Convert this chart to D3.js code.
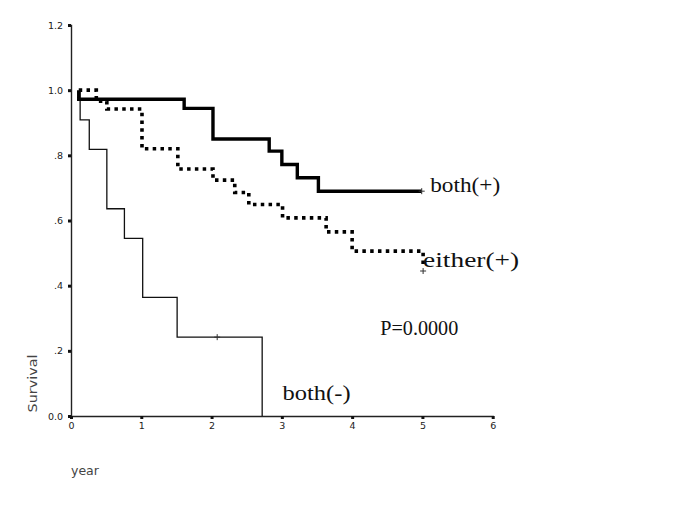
<!DOCTYPE html>
<html>
<head>
<meta charset="utf-8">
<script src="https://cdn.jsdelivr.net/npm/d3@7"></script>
<style>
  body { margin: 0; background: #fff; }
  .tick text { font-family: "DejaVu Sans", sans-serif; font-size: 9.5px; fill: #222; }
  .lbl { font-family: "Liberation Serif", serif; font-size: 20px; fill: #111; }
</style>
</head>
<body>
<svg width="685" height="513"></svg>
<script>
const svg = d3.select('svg');

// survival steps (value holds from that time on)
const bothPosTime = [0.11, 0.11, 1.61, 2.02, 2.82, 3.00, 3.22, 3.52, 4.99];
const bothPosSurv = [1.00, 0.972, 0.944, 0.850, 0.813, 0.772, 0.731, 0.690, 0.690];

const eitherTime = [0.11, 0.36, 0.51, 1.01, 1.52, 2.02, 2.33, 2.53, 3.01, 3.63, 4.00, 5.01, 5.01];
const eitherSurv = [1.00, 0.966, 0.942, 0.820, 0.758, 0.724, 0.686, 0.649, 0.608, 0.565, 0.506, 0.455, 0.455];

const bothNegTime = [0.12, 0.13, 0.26, 0.51, 0.76, 1.02, 1.51, 2.72, 2.72];
const bothNegSurv = [1.00, 0.909, 0.818, 0.636, 0.545, 0.364, 0.242, 0.0, 0.0];

// censored marks
const censorTime = [2.08, 4.99, 5.01];
const censorSurv = [0.242, 0.690, 0.445];

const xTicks = [0, 1, 2, 3, 4, 5, 6];
const yTicks = [0, 0.2, 0.4, 0.6, 0.8, 1.0, 1.2];

const x = d3.scaleLinear().domain([0, 6]).range([71, 492.7]);
const y = d3.scaleLinear().domain([0, 1.2]).range([416, 25]);

const fmtY = d => {
  const s = d3.format('.1f')(d);
  return (d > 0 && d < 1) ? s.slice(1) : s;
};

const yAxis = svg.append('g')
  .attr('transform', `translate(${x(0)},0)`)
  .call(d3.axisLeft(y).tickValues(yTicks).tickFormat(fmtY).tickSize(3).tickPadding(5));
const xAxis = svg.append('g')
  .attr('transform', `translate(0,${y(0)})`)
  .call(d3.axisBottom(x).tickValues(xTicks).tickFormat(d3.format('d')).tickSize(3).tickPadding(3));

[yAxis, xAxis].forEach(a => {
  a.select('.domain').attr('stroke', '#222').attr('stroke-width', 1.4);
  a.selectAll('.tick line').attr('stroke', '#111').attr('stroke-width', 3);
});

const line = d3.line()
  .x(d => x(d[0]))
  .y(d => y(d[1]))
  .curve(d3.curveStepAfter);

const zip = (a, b) => a.map((t, i) => [t, b[i]]);

svg.append('path')
  .datum(zip(bothNegTime, bothNegSurv))
  .attr('d', line)
  .attr('fill', 'none').attr('stroke', '#111').attr('stroke-width', 1.3);

svg.append('path')
  .datum(zip(eitherTime, eitherSurv))
  .attr('d', line)
  .attr('fill', 'none').attr('stroke', '#000').attr('stroke-width', 3.6)
  .attr('stroke-dasharray', '3.5,4.3');

svg.append('path')
  .datum(zip(bothPosTime, bothPosSurv))
  .attr('d', line)
  .attr('fill', 'none').attr('stroke', '#000').attr('stroke-width', 3.4);

// censor crosses
const cg = svg.append('g').attr('stroke', '#333').attr('stroke-width', 1);
censorTime.forEach((t, i) => {
  cg.append('line').attr('x1', x(t) - 3).attr('x2', x(t) + 3).attr('y1', y(censorSurv[i])).attr('y2', y(censorSurv[i]));
  cg.append('line').attr('x1', x(t)).attr('x2', x(t)).attr('y1', y(censorSurv[i]) - 3).attr('y2', y(censorSurv[i]) + 3);
});

// group labels
const labels = [
  { text: 'both(+)', t: 5.11, s: 0.687, w: 70 },
  { text: 'either(+)', t: 5.01, s: 0.457, w: 96 },
  { text: 'P=0.0000', t: 4.40, s: 0.248, w: 78 },
  { text: 'both(-)', t: 3.01, s: 0.049, w: 68 }
];
svg.selectAll('text.lbl')
  .data(labels)
  .enter().append('text')
  .attr('class', 'lbl')
  .attr('x', d => x(d.t))
  .attr('y', d => y(d.s))
  .attr('textLength', d => d.w)
  .attr('lengthAdjust', 'spacingAndGlyphs')
  .text(d => d.text);

svg.append('text')
  .attr('transform', `translate(37,${y(0.1)}) rotate(-90)`)
  .attr('text-anchor', 'middle')
  .attr('font-family', 'DejaVu Sans, sans-serif')
  .attr('font-size', 13)
  .attr('fill', '#444')
  .attr('textLength', 58)
  .attr('lengthAdjust', 'spacingAndGlyphs')
  .text('Survival');

svg.append('text')
  .attr('x', x(0))
  .attr('y', 475)
  .attr('font-family', 'DejaVu Sans, sans-serif')
  .attr('font-size', 12.5)
  .attr('fill', '#444')
  .text('year');
</script>
</body>
</html>
